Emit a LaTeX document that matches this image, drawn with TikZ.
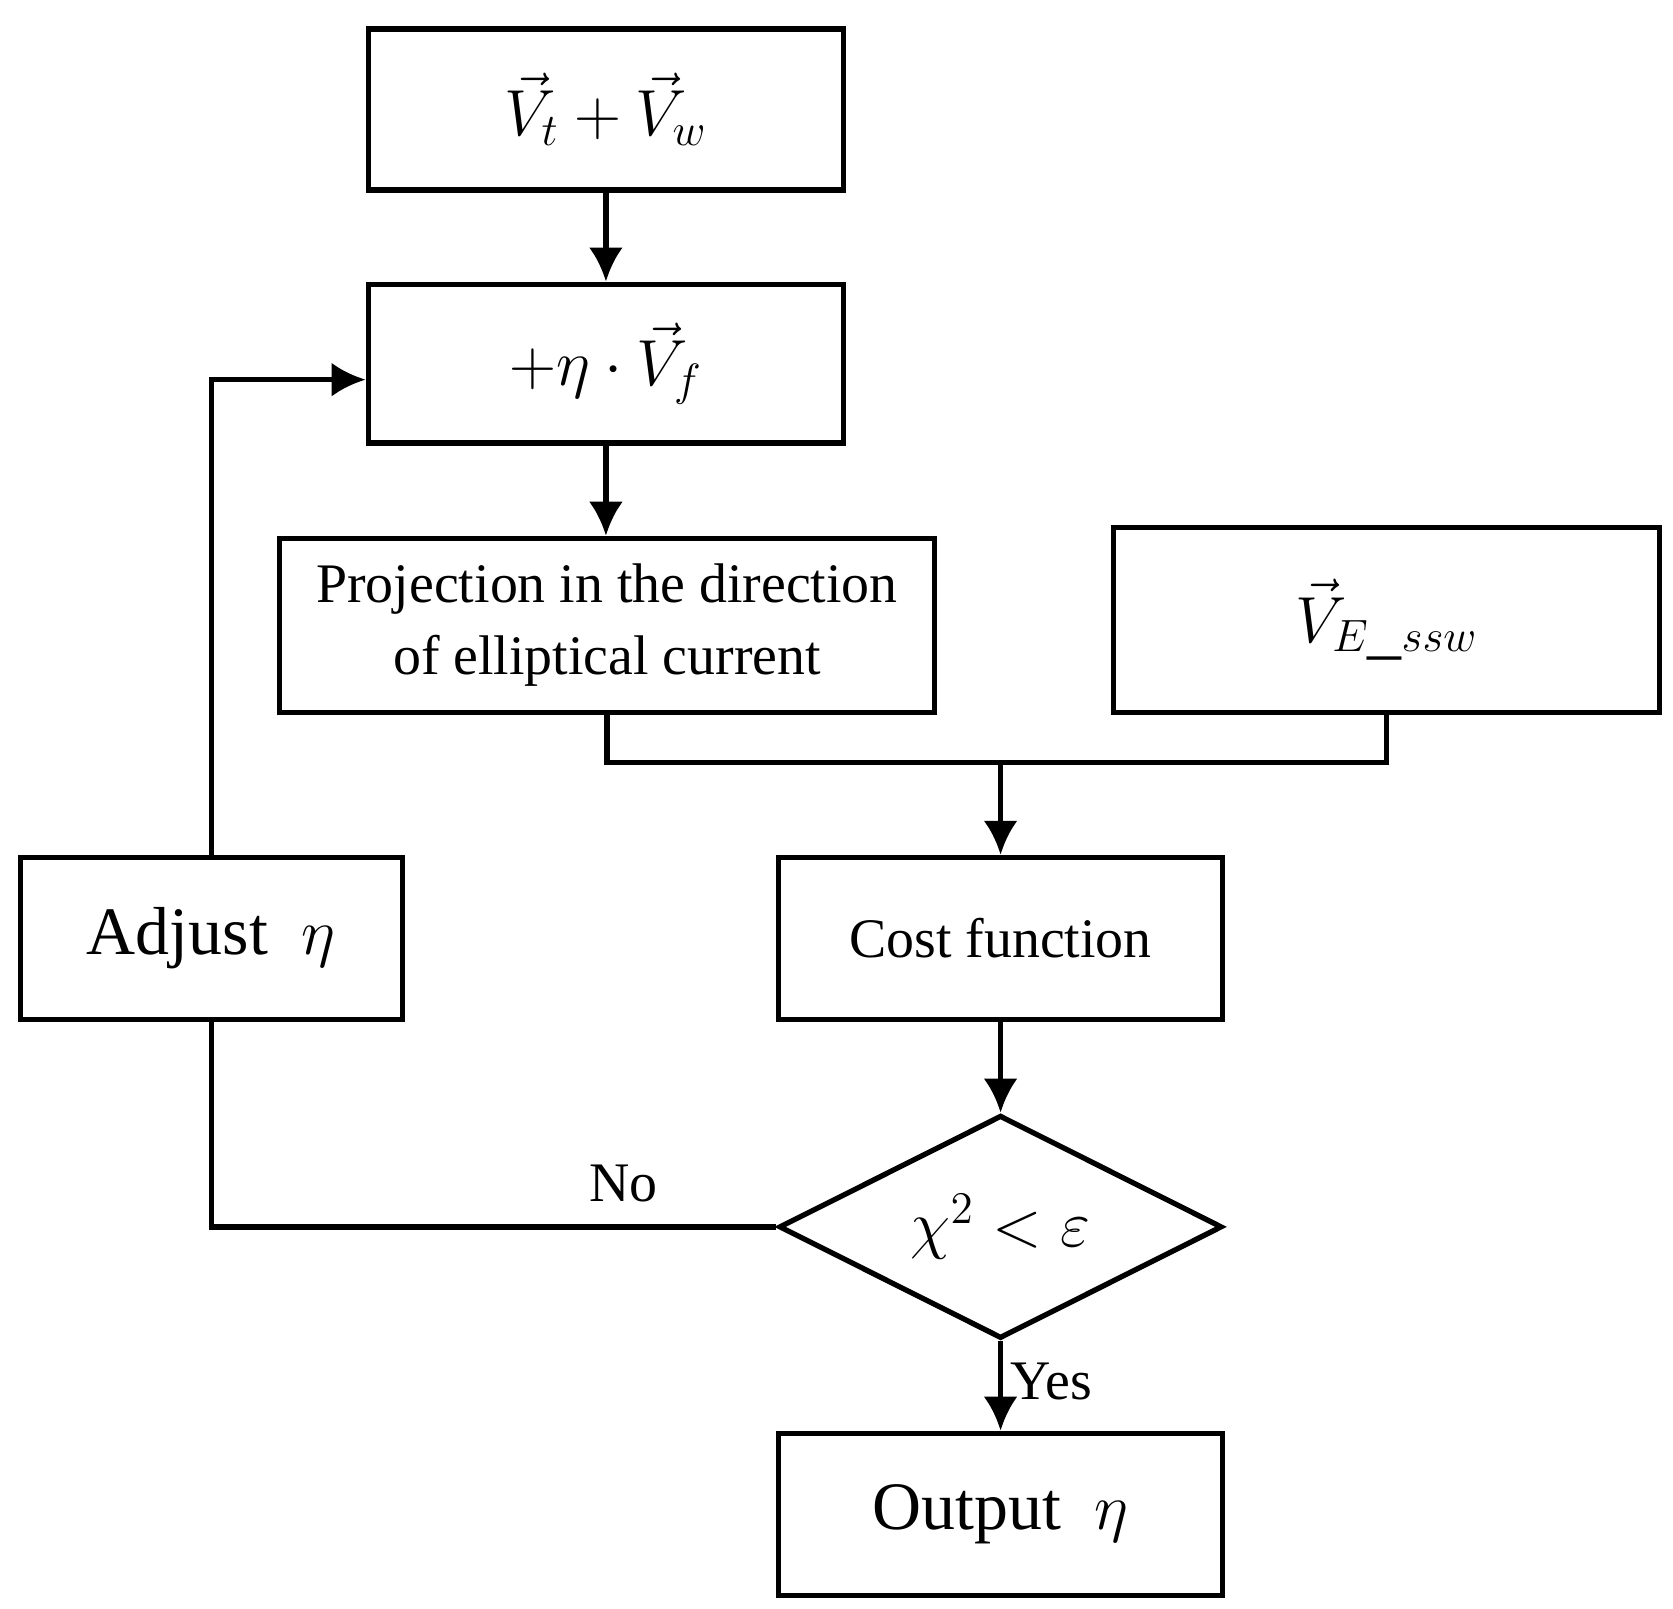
\documentclass[tikz,border=0pt]{standalone}
\usepackage{fontspec}
\setmainfont{Liberation Serif}
\usetikzlibrary{shapes.geometric,arrows.meta}
\begin{document}
\begin{tikzpicture}[x=0.01cm,y=-0.01cm,
  box/.style={draw,line width=1.4pt,inner sep=0pt,font=\fontsize{14.8}{19}\selectfont,align=center},
  arr/.style={line width=1.4pt,-{Latex[length=9pt,width=9pt]}},
  lbl/.style={font=\fontsize{14.8}{18}\selectfont},
  ln/.style={line width=1.4pt}]
\useasboundingbox (0,0) rectangle (1560,1500);
\node[box,minimum width=4.43cm,minimum height=1.5cm] (b1) at (565,102) {\fontsize{18}{20}\selectfont $\vec V_t+\vec V_w$};
\node[box,minimum width=4.43cm,minimum height=1.48cm] (b2) at (565,339) {\fontsize{18}{20}\selectfont $+\eta\cdot\vec V_f$};
\node[box,minimum width=6.1cm,minimum height=1.62cm] (b3) at (566,583) {Projection in the direction\\of elliptical current};
\node[box,minimum width=5.09cm,minimum height=1.72cm] (b4) at (1293,578) {\fontsize{18}{20}\selectfont $\vec V_{E\_ssw}$};
\node[box,minimum width=4.14cm,minimum height=1.51cm] (cost) at (933,875) {Cost function};
\node[box,diamond,aspect=2,minimum width=4.13cm,minimum height=2.08cm] (dia) at (933,1144) {\fontsize{17}{20}\selectfont $\chi^2<\varepsilon$};
\node[box,minimum width=4.14cm,minimum height=1.51cm] (out) at (933,1412) {\fontsize{18}{20}\selectfont Output\ \ $\eta$};
\node[box,minimum width=3.56cm,minimum height=1.51cm] (adj) at (197,875) {\fontsize{18}{20}\selectfont Adjust\ \ $\eta$};
\coordinate (m) at (933,711);
\draw[arr] (b1) -- (b2);
\draw[arr] (b2) -- (b3.north -| b2);
\draw[ln] (b3.south) |- (m) -| (b4.south);
\draw[arr] (m) -- (cost);
\draw[arr] (cost) -- (dia);
\draw[arr] (dia) -- node[right,pos=0.45,inner sep=2pt,lbl]{Yes} (out);
\draw[ln] (dia.west) -- node[above,pos=0.27,inner sep=6pt,lbl]{No} (adj.south |- dia.west) -- (adj.south);
\draw[arr] (adj.north) |- (b2.west |- 0,354);
\end{tikzpicture}
\end{document}
